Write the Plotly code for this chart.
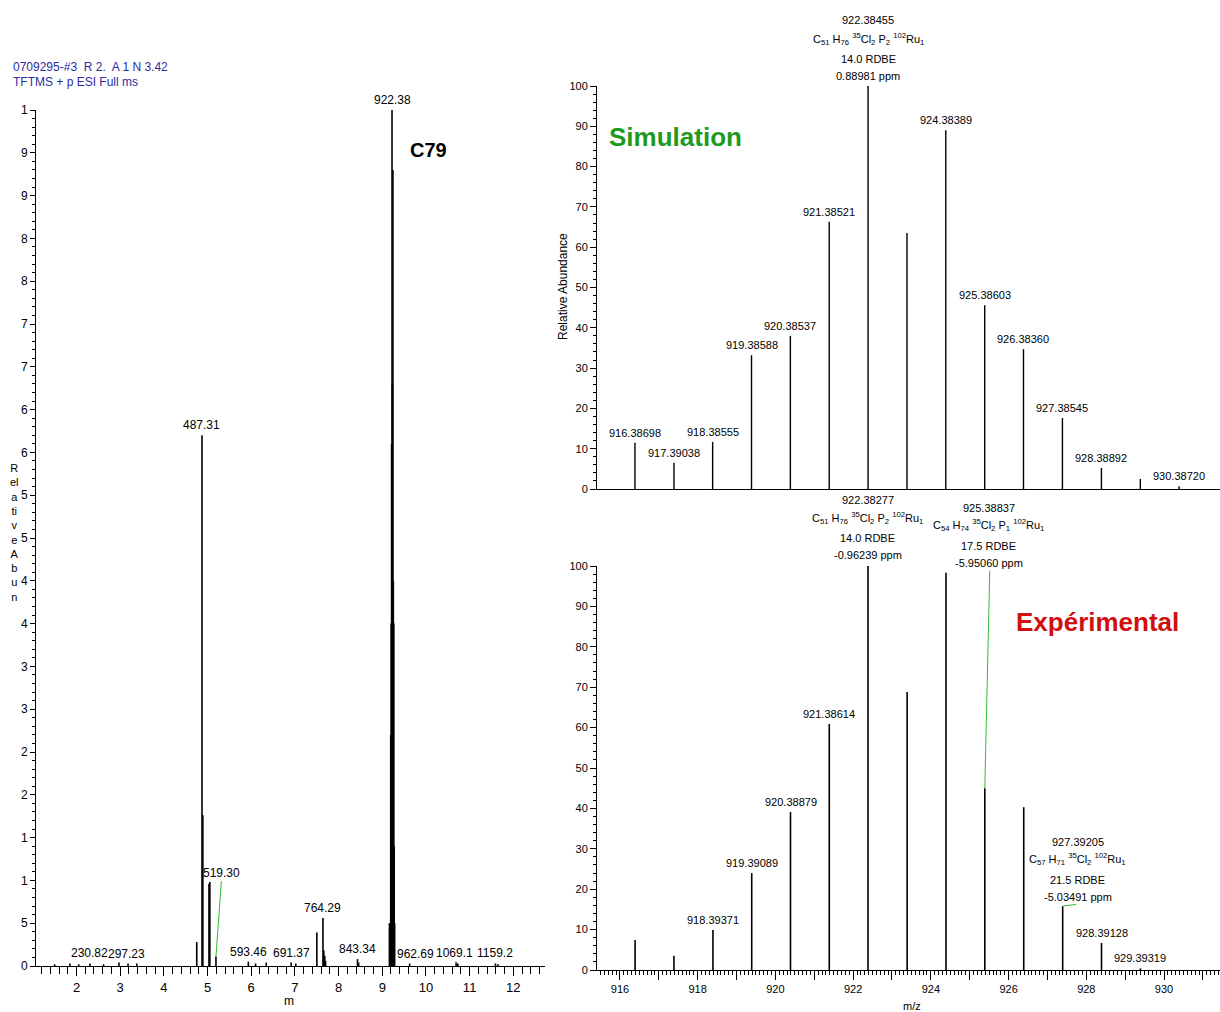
import plotly.graph_objects as go

# ---------------- data ----------------
# Left: full-scan spectrum (m/z, relative abundance %)
full_mz = [150.0, 185.0, 205.0, 230.82, 262.0, 297.23, 318.0, 338.0, 475.3, 487.31, 489.3,
           503.3, 505.3, 519.30, 593.46, 610.0, 634.4, 691.37, 702.0, 750.3, 764.29, 766.3,
           768.3, 770.3, 843.34, 846.0, 916.4, 919.4, 920.4, 921.4, 922.38, 923.4, 924.4,
           925.4, 926.4, 927.4, 928.4, 962.69, 1069.1, 1073.0, 1159.2, 1165.0]
full_int = [0.2, 0.3, 0.2, 0.3, 0.2, 0.4, 0.3, 0.3, 2.8, 62.0, 17.6,
            9.6, 9.8, 1.1, 0.5, 0.3, 0.4, 0.4, 0.3, 3.9, 5.6, 1.8,
            1.2, 0.6, 0.8, 0.4, 5.0, 27.0, 40.0, 61.0, 100.0, 68.0, 93.0,
            45.0, 40.0, 14.0, 5.0, 0.3, 0.4, 0.3, 0.3, 0.2]
full_labels = ["230.82", "297.23", "487.31", "519.30", "593.46", "691.37",
               "764.29", "843.34", "922.38", "962.69", "1069.1", "1159.2"]
full_x_ticks = [200, 300, 400, 500, 600, 700, 800, 900, 1000, 1100, 1200]
full_x_ticktext = ["2", "3", "4", "5", "6", "7", "8", "9", "10", "11", "12"]
full_y_ticks = [0, 5, 10, 15, 20, 25, 30, 35, 40, 45, 50, 55, 60, 65, 70, 75, 80, 85, 90, 95, 100]
full_y_ticktext = ["0", "5", "1", "1", "2", "2", "3", "3", "4", "4", "5", "5",
                   "6", "6", "7", "7", "8", "8", "9", "9", "1"]

# Top right: simulated isotope pattern
sim_mz = [916.38698, 917.39038, 918.38555, 919.38588, 920.38537, 921.38521, 922.38455,
          923.38600, 924.38389, 925.38603, 926.38360, 927.38545, 928.38892, 929.39000, 930.38720]
sim_int = [11.5, 6.5, 11.7, 33.2, 38.0, 66.3, 100.0, 63.5, 89.0, 45.6, 34.7, 17.6, 5.2, 2.5, 0.7]
sim_labels = ["916.38698", "917.39038", "918.38555", "919.38588", "920.38537", "921.38521", None,
              None, "924.38389", "925.38603", "926.38360", "927.38545", "928.38892", None, "930.38720"]

# Bottom right: experimental isotope pattern
exp_mz = [916.39, 917.39, 918.39371, 919.39089, 920.38879, 921.38614, 922.38277,
          923.39, 924.39, 925.38837, 926.39, 927.39205, 928.39128, 929.39319]
exp_int = [7.4, 3.5, 9.9, 24.0, 39.1, 60.9, 100.0, 68.8, 98.3, 45.0, 40.3, 15.8, 6.7, 0.4]
exp_labels = [None, None, "918.39371", "919.39089", "920.38879", "921.38614", None,
              None, None, None, None, None, "928.39128", "929.39319"]
zoom_x_ticks = [916, 917, 918, 919, 920, 921, 922, 923, 924, 925, 926, 927, 928, 929, 930, 931]
zoom_x_ticktext = ["916", "", "918", "", "920", "", "922", "", "924", "", "926", "", "928", "", "930", ""]
zoom_y_ticks = [0, 10, 20, 30, 40, 50, 60, 70, 80, 90, 100]

formula_sim = "C<sub>51</sub> H<sub>76</sub> <sup>35</sup>Cl<sub>2</sub> P<sub>2</sub> <sup>102</sup>Ru<sub>1</sub>"
block_sim = ["0.88981 ppm", "14.0 RDBE", formula_sim, "922.38455"]
block_exp1 = ["-0.96239 ppm", "14.0 RDBE", formula_sim, "922.38277"]
block_exp2 = ["-5.95060 ppm", "17.5 RDBE",
              "C<sub>54</sub> H<sub>74</sub> <sup>35</sup>Cl<sub>2</sub> P<sub>1</sub> <sup>102</sup>Ru<sub>1</sub>",
              "925.38837"]
block_exp3 = ["-5.03491 ppm", "21.5 RDBE",
              "C<sub>57</sub> H<sub>71</sub> <sup>35</sup>Cl<sub>2</sub> <sup>102</sup>Ru<sub>1</sub>",
              "927.39205"]

# ---------------- figure ----------------
W, H = 1220, 1012
def px(x):
    return x / W
def py(y):
    return 1 - y / H

ARIAL = "Liberation Sans, Arial, sans-serif"
NARROW = "Liberation Sans Narrow, Arial Narrow, Liberation Sans, Arial, sans-serif"

def sticks(mz, inten):
    xs, ys = [], []
    for m, v in zip(mz, inten):
        xs += [m, m, None]
        ys += [0, v, None]
    return xs, ys

fig = go.Figure()
x1, y1 = sticks(full_mz, full_int)
fig.add_trace(go.Scatter(x=x1, y=y1, mode="lines", line=dict(color="black", width=1.6),
                         xaxis="x", yaxis="y", hoverinfo="skip", showlegend=False))
x2, y2 = sticks(sim_mz, sim_int)
fig.add_trace(go.Scatter(x=x2, y=y2, mode="lines", line=dict(color="black", width=1.4),
                         xaxis="x2", yaxis="y2", hoverinfo="skip", showlegend=False))
x3, y3 = sticks(exp_mz, exp_int)
fig.add_trace(go.Scatter(x=x3, y=y3, mode="lines", line=dict(color="black", width=1.6),
                         xaxis="x3", yaxis="y3", hoverinfo="skip", showlegend=False))

ann = []
# Left panel peak labels
green_leaders = {"297.23": (8, -9), "519.30": (6, -84), "962.69": (6, -9), "1069.1": (-2, -10)}
for lab in full_labels:
    m = float(lab)
    idx = min(range(len(full_mz)), key=lambda i: abs(full_mz[i] - m))
    v = full_int[idx]
    if lab in green_leaders:
        axo, ayo = green_leaders[lab]
        ann.append(dict(x=full_mz[idx], y=v, xref="x", yref="y", text=lab, showarrow=True,
                        arrowhead=0, arrowwidth=1, arrowcolor="#33bb33", ax=axo, ay=ayo,
                        font=dict(family=ARIAL, size=12, color="black")))
    else:
        ann.append(dict(x=full_mz[idx], y=v, xref="x", yref="y", text=lab, showarrow=False,
                        xanchor="center", yanchor="bottom", yshift=1,
                        font=dict(family=ARIAL, size=12, color="black")))

# Simulation labels
for m, v, lab in zip(sim_mz, sim_int, sim_labels):
    if lab:
        ann.append(dict(x=m, y=v, xref="x2", yref="y2", text=lab, showarrow=False,
                        xanchor="center", yanchor="bottom", yshift=2,
                        font=dict(family=NARROW, size=11, color="black")))
for m, v, lab in zip(exp_mz, exp_int, exp_labels):
    if lab:
        ann.append(dict(x=m, y=v, xref="x3", yref="y3", text=lab, showarrow=False,
                        xanchor="center", yanchor="bottom", yshift=2,
                        font=dict(family=NARROW, size=11, color="black")))

def stack(xr, yr, x, y, lines, offsets, xshift=0):
    for t, o in zip(lines, offsets):
        ann.append(dict(x=x, y=y, xref=xr, yref=yr, text=t, showarrow=False,
                        xanchor="center", yanchor="middle",
                        yshift=o, xshift=xshift, font=dict(family=NARROW, size=11, color="black")))

stack("x2", "y2", sim_mz[6], sim_int[6], block_sim, [10, 27, 47, 66])
stack("x3", "y3", exp_mz[6], exp_int[6], block_exp1, [11, 28, 48, 66])
stack("x3", "y3", exp_mz[9], exp_int[9], block_exp2, [225, 242, 263, 280], xshift=4)
stack("x3", "y3", exp_mz[11], exp_int[11], block_exp3, [9, 26, 47, 64], xshift=15)
# green leader lines
ann.append(dict(x=exp_mz[9], y=exp_int[9], xref="x3", yref="y3", text="", showarrow=True,
                arrowhead=0, arrowwidth=1, arrowcolor="#33bb33", ax=5, ay=-219))
ann.append(dict(x=exp_mz[11], y=exp_int[11], xref="x3", yref="y3", text="", showarrow=True,
                arrowhead=0, arrowwidth=1, arrowcolor="#33bb33", ax=15, ay=-2))

def paper_text(x, y, text, size, color, family=ARIAL, xanchor="center", angle=0):
    return dict(x=px(x), y=py(y), xref="paper", yref="paper", text=text, showarrow=False,
                xanchor=xanchor, yanchor="middle", textangle=angle,
                font=dict(family=family, size=size, color=color))

ann += [
    paper_text(11, 67, "0709295-#3  R 2.  A 1 N 3.42", 12, "#2b2ba0", xanchor="left"),
    paper_text(11, 82, "TFTMS + p ESI Full ms", 12, "#2b2ba0", xanchor="left"),
    paper_text(428, 150, "<b>C79</b>", 20, "black"),
    paper_text(14, 532, "R<br>el<br>a<br>ti<br>v<br>e<br>A<br>b<br>u<br>n", 11, "black"),
    paper_text(289, 1001, "m", 12, "black"),
    paper_text(675, 137, "<b>Simulation</b>", 26, "#1f9a1f"),
    paper_text(1097, 622, "<b>Expérimental</b>", 26, "#d10f0f"),
    paper_text(563, 287, "Relative Abundance", 12, "black", family=NARROW, angle=-90),
    paper_text(912, 1006, "m/z", 11, "black", family=NARROW),
]

axis_common = dict(showgrid=False, zeroline=False, showline=True, linecolor="black", linewidth=1,
                   ticks="outside", tickcolor="black", tickwidth=1, automargin=False)

fig.update_layout(
    width=W, height=H, margin=dict(l=0, r=0, t=0, b=0, autoexpand=False),
    plot_bgcolor="white", paper_bgcolor="white", showlegend=False,
    xaxis=dict(axis_common, domain=[px(36), px(545)], range=[107.3, 1272.6], anchor="y",
               tickmode="array", tickvals=full_x_ticks, ticktext=full_x_ticktext, ticklen=9,
               tickfont=dict(family=ARIAL, size=13, color="black"),
               minor=dict(ticks="outside", dtick=20, tick0=0, ticklen=7, tickcolor="black")),
    yaxis=dict(axis_common, domain=[py(966), py(110)], range=[0, 100], anchor="x",
               tickmode="array", tickvals=full_y_ticks, ticktext=full_y_ticktext, ticklen=5,
               tickfont=dict(family=ARIAL, size=12, color="black"),
               minor=dict(ticks="outside", dtick=1, tick0=0, ticklen=3, tickcolor="black")),
    xaxis2=dict(axis_common, domain=[px(597), 1.0], range=[915.41, 931.44], anchor="y2",
                ticks="", showticklabels=False),
    yaxis2=dict(axis_common, domain=[py(489), py(86)], range=[0, 100], anchor="x2",
                tickmode="array", tickvals=zoom_y_ticks, ticklen=6,
                tickfont=dict(family=NARROW, size=11, color="black"),
                minor=dict(ticks="outside", dtick=2, tick0=0, ticklen=3, tickcolor="black")),
    xaxis3=dict(axis_common, domain=[px(597), 1.0], range=[915.41, 931.44], anchor="y3",
                tickmode="array", tickvals=zoom_x_ticks, ticktext=zoom_x_ticktext, ticklen=9,
                tickfont=dict(family=NARROW, size=11, color="black"),
                minor=dict(ticks="outside", dtick=0.1, tick0=0, ticklen=4, tickcolor="black")),
    yaxis3=dict(axis_common, domain=[py(970), py(566)], range=[0, 100], anchor="x3",
                tickmode="array", tickvals=zoom_y_ticks, ticklen=6,
                tickfont=dict(family=NARROW, size=11, color="black"),
                minor=dict(ticks="outside", dtick=2, tick0=0, ticklen=3, tickcolor="black")),
    annotations=ann,
)

fig.write_html("out.html", post_script="document.body.style.margin='0';",
               config={"displayModeBar": False})
